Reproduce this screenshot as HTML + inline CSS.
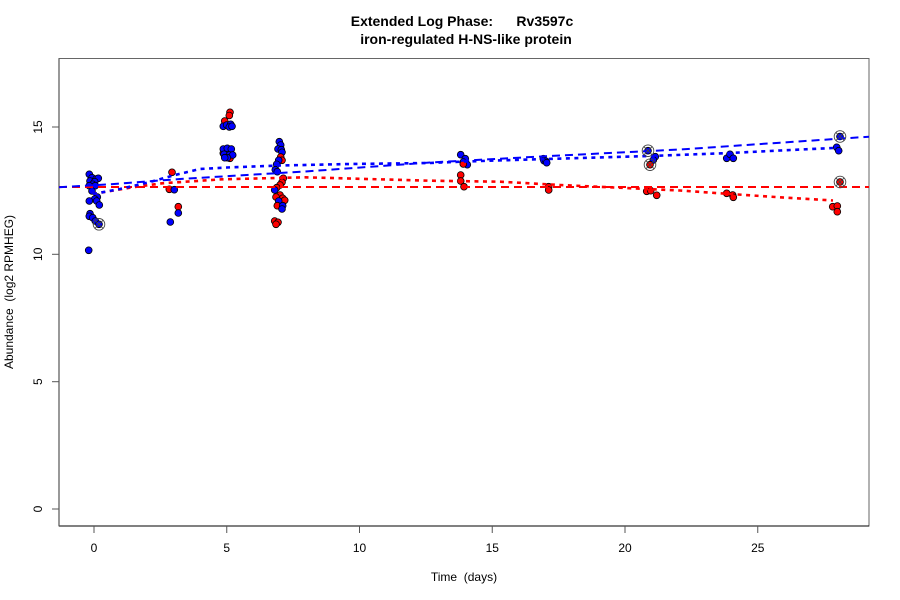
<!DOCTYPE html>
<html><head><meta charset="utf-8"><style>
html,body{margin:0;padding:0;background:#fff;}
svg{display:block;font-family:"Liberation Sans",Arial,sans-serif;}
</style></head><body>
<svg width="900" height="600" viewBox="0 0 900 600" xmlns="http://www.w3.org/2000/svg">
<rect width="900" height="600" fill="#fff"/>
<text x="462" y="26" font-size="14" font-weight="bold" text-anchor="middle" xml:space="preserve">Extended Log Phase:      Rv3597c</text>
<text x="466" y="44" font-size="14" font-weight="bold" text-anchor="middle">iron-regulated H-NS-like protein</text>
<rect x="59" y="58.5" width="810" height="467.5" fill="none" stroke="#666" stroke-width="1"/>
<line x1="59" y1="526" x2="869" y2="526" stroke="#000" stroke-width="1"/>
<line x1="59" y1="58.5" x2="59" y2="526" stroke="#555" stroke-width="1.2"/>
<g stroke="#555" stroke-width="1">
<line x1="94" y1="526" x2="94" y2="533"/><line x1="226.75" y1="526" x2="226.75" y2="533"/><line x1="359.5" y1="526" x2="359.5" y2="533"/><line x1="492.25" y1="526" x2="492.25" y2="533"/><line x1="625" y1="526" x2="625" y2="533"/><line x1="757.75" y1="526" x2="757.75" y2="533"/>
</g>
<g font-size="12" text-anchor="middle" fill="#000">
<text x="94" y="552">0</text><text x="226.75" y="552">5</text><text x="359.5" y="552">10</text><text x="492.25" y="552">15</text><text x="625" y="552">20</text><text x="757.75" y="552">25</text>
</g>
<g stroke="#555" stroke-width="1">
<line x1="52" y1="509" x2="59" y2="509"/><line x1="52" y1="381.7" x2="59" y2="381.7"/><line x1="52" y1="254.3" x2="59" y2="254.3"/><line x1="52" y1="127" x2="59" y2="127"/>
</g>
<g font-size="12" text-anchor="middle" fill="#000">
<text transform="translate(42,509) rotate(-90)">0</text>
<text transform="translate(42,381.7) rotate(-90)">5</text>
<text transform="translate(42,254.3) rotate(-90)">10</text>
<text transform="translate(42,127) rotate(-90)">15</text>
</g>
<text x="464" y="581" font-size="12" text-anchor="middle" xml:space="preserve">Time  (days)</text>
<text transform="translate(13,292) rotate(-90)" font-size="12" text-anchor="middle" xml:space="preserve">Abundance  (log2 RPMHEG)</text>

<g stroke="#000" stroke-width="0.8">
<g fill="#ff0000">
<circle cx="172" cy="172.3" r="3.4"/><circle cx="169.3" cy="189.3" r="3.4"/><circle cx="178.3" cy="206.7" r="3.4"/>
<circle cx="230" cy="112.3" r="3.4"/><circle cx="229.3" cy="115.5" r="3.4"/><circle cx="224.7" cy="121" r="3.4"/><circle cx="223.3" cy="153.3" r="3.4"/><circle cx="230" cy="158.3" r="3.4"/>
</g>
<g fill="#0000ff">
<circle cx="89.3" cy="174.3" r="3.4"/><circle cx="92" cy="177.7" r="3.4"/><circle cx="96" cy="179" r="3.4"/><circle cx="98.3" cy="178.3" r="3.4"/><circle cx="90" cy="181" r="3.4"/><circle cx="94.7" cy="181.7" r="3.4"/><circle cx="92.7" cy="184.3" r="3.4"/><circle cx="89.3" cy="185.7" r="3.4"/><circle cx="95.3" cy="185.7" r="3.4"/><circle cx="92" cy="191" r="3.4"/><circle cx="97.3" cy="197" r="3.4"/><circle cx="94.7" cy="199" r="3.4"/><circle cx="89.3" cy="201" r="3.4"/><circle cx="96.7" cy="201" r="3.4"/><circle cx="99.3" cy="205" r="3.4"/><circle cx="90" cy="213.7" r="3.4"/><circle cx="89.3" cy="216.3" r="3.4"/><circle cx="92.7" cy="217.7" r="3.4"/><circle cx="95.3" cy="221" r="3.4"/><circle cx="99" cy="224.3" r="3.4"/><circle cx="88.7" cy="250.3" r="3.4"/>
<circle cx="174.3" cy="189.7" r="3.4"/><circle cx="178.3" cy="213" r="3.4"/><circle cx="170.3" cy="222" r="3.4"/>
<circle cx="223.3" cy="126.3" r="3.4"/><circle cx="226.7" cy="125" r="3.4"/><circle cx="230.7" cy="124.3" r="3.4"/><circle cx="229.3" cy="127" r="3.4"/><circle cx="232" cy="126.3" r="3.4"/><circle cx="223.3" cy="149" r="3.4"/><circle cx="227.3" cy="148.3" r="3.4"/><circle cx="231.3" cy="149" r="3.4"/><circle cx="224" cy="154.3" r="3.4"/><circle cx="229.3" cy="155" r="3.4"/><circle cx="232.7" cy="155" r="3.4"/><circle cx="227.3" cy="157.7" r="3.4"/><circle cx="224.7" cy="157.7" r="3.4"/>
<circle cx="279.3" cy="141.7" r="3.4"/><circle cx="280.7" cy="145" r="3.4"/><circle cx="278" cy="149" r="3.4"/><circle cx="281.3" cy="149.7" r="3.4"/><circle cx="282" cy="152.3" r="3.4"/>
</g>
<g fill="#ff0000">
<circle cx="280.7" cy="157" r="3.4"/><circle cx="282" cy="160.3" r="3.4"/>
</g>
<g fill="#0000ff">
<circle cx="278.7" cy="160.3" r="3.4"/><circle cx="276.7" cy="164.3" r="3.4"/><circle cx="275.3" cy="169.7" r="3.4"/><circle cx="277.3" cy="171.7" r="3.4"/>
</g>
<g fill="#ff0000">
<circle cx="283.3" cy="178.3" r="3.4"/><circle cx="282" cy="182.3" r="3.4"/><circle cx="280" cy="185" r="3.4"/><circle cx="276.7" cy="187.7" r="3.4"/>
</g>
<circle fill="#0000ff" cx="274.7" cy="190" r="3.4"/>
<g fill="#ff0000">
<circle cx="280" cy="195" r="3.4"/><circle cx="276" cy="197" r="3.4"/><circle cx="282.7" cy="198.3" r="3.4"/><circle cx="284.7" cy="200.3" r="3.4"/>
</g>
<circle fill="#0000ff" cx="278.7" cy="201" r="3.4"/>
<circle fill="#ff0000" cx="277.3" cy="205.7" r="3.4"/>
<circle fill="#0000ff" cx="282.7" cy="205.7" r="3.4"/><circle fill="#0000ff" cx="282" cy="209" r="3.4"/>
<g fill="#ff0000">
<circle cx="274.7" cy="221" r="3.4"/><circle cx="278" cy="222.3" r="3.4"/><circle cx="276" cy="224.3" r="3.4"/>
</g>
<g fill="#0000ff">
<circle cx="460.7" cy="154.7" r="3.4"/><circle cx="465.3" cy="158.7" r="3.4"/><circle cx="463.3" cy="162" r="3.4"/><circle cx="467.3" cy="164.7" r="3.4"/>
<circle cx="543.3" cy="158.7" r="3.4"/><circle cx="544" cy="160.7" r="3.4"/><circle cx="546" cy="161.3" r="3.4"/><circle cx="546.7" cy="162.7" r="3.4"/>
<circle cx="648" cy="150.7" r="3.4"/><circle cx="655.3" cy="156.7" r="3.4"/><circle cx="653.3" cy="160" r="3.4"/>
<circle cx="726.7" cy="158.3" r="3.4"/><circle cx="730" cy="154.3" r="3.4"/><circle cx="733.3" cy="158.3" r="3.4"/>
<circle cx="840" cy="136.5" r="3.4"/><circle cx="836.7" cy="147.3" r="3.4"/><circle cx="838.7" cy="150.7" r="3.4"/>
</g>
<g fill="#ff0000">
<circle cx="463.3" cy="164" r="3.4"/><circle cx="460.7" cy="175" r="3.4"/><circle cx="460.7" cy="181" r="3.4"/><circle cx="464" cy="186.7" r="3.4"/>
<circle cx="548.7" cy="186.7" r="3.4"/><circle cx="548.7" cy="190" r="3.4"/>
<circle cx="650" cy="164.7" r="3.4"/><circle cx="646.7" cy="191.3" r="3.4"/><circle cx="650.7" cy="190.7" r="3.4"/><circle cx="656.7" cy="195.3" r="3.4"/>
<circle cx="726.7" cy="193.3" r="3.4"/><circle cx="732.7" cy="195" r="3.4"/><circle cx="733.3" cy="197.3" r="3.4"/>
<circle cx="840" cy="182" r="3.4"/><circle cx="832.7" cy="206.7" r="3.4"/><circle cx="837.3" cy="206" r="3.4"/><circle cx="837.3" cy="211.7" r="3.4"/>
</g>
</g>

<line x1="59" y1="187" x2="869" y2="187" stroke="#ff0000" stroke-width="2" stroke-dasharray="8,5"/>
<polyline fill="none" stroke="#0000ff" stroke-width="2" stroke-dasharray="8,5" points="59,187.2 110,184.3 180,179 305,171.5 430,162.5 550,156 680,149.5 780,142.7 869,136.7"/>
<polyline fill="none" stroke="#ff0000" stroke-width="2.6" stroke-dasharray="4,4.5" points="93,194 130,187.7 162,183.3 222,179.3 305,177.3 430,180.7 500,181.7 560,185 680,190.5 730,194 780,197.3 833,200.5"/>
<polyline fill="none" stroke="#0000ff" stroke-width="2.6" stroke-dasharray="4,4.5" points="93,194 120,189 150,182 175,175 200,169 227,167.5 280,165.5 350,164 430,163 465,161.5 546,159 650,156 730,153 780,150.5 833,148"/>

<g fill="none" stroke="#444" stroke-width="0.9">
<g transform="translate(99,224.3)"><circle r="5.8"/><line x1="-4.1" y1="-4.1" x2="4.1" y2="4.1"/><line x1="-4.1" y1="4.1" x2="4.1" y2="-4.1"/></g>
<g transform="translate(648,150.7)"><circle r="5.8"/><line x1="-4.1" y1="-4.1" x2="4.1" y2="4.1"/><line x1="-4.1" y1="4.1" x2="4.1" y2="-4.1"/></g>
<g transform="translate(650,164.7)"><circle r="5.8"/><line x1="-4.1" y1="-4.1" x2="4.1" y2="4.1"/><line x1="-4.1" y1="4.1" x2="4.1" y2="-4.1"/></g>
<g transform="translate(840,136.5)"><circle r="5.8"/><line x1="-4.1" y1="-4.1" x2="4.1" y2="4.1"/><line x1="-4.1" y1="4.1" x2="4.1" y2="-4.1"/></g>
<g transform="translate(840,182)"><circle r="5.8"/><line x1="-4.1" y1="-4.1" x2="4.1" y2="4.1"/><line x1="-4.1" y1="4.1" x2="4.1" y2="-4.1"/></g>
</g>
</svg>
</body></html>
